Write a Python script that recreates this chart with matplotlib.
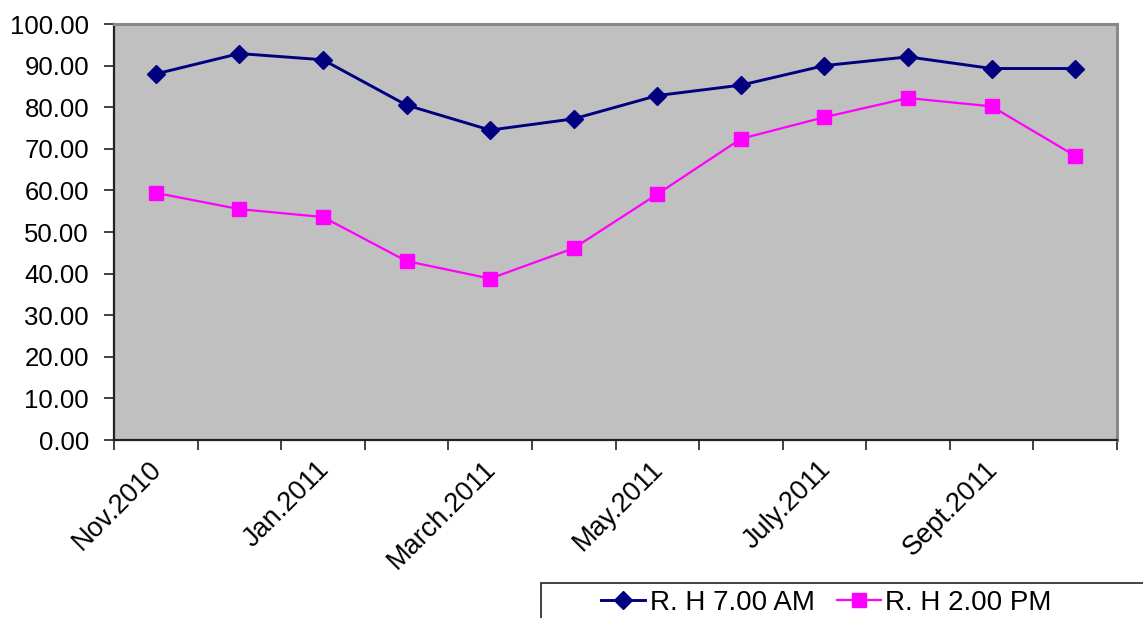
import numpy as np
import matplotlib.pyplot as plt
from matplotlib.patches import Rectangle
from matplotlib.lines import Line2D

plt.rcParams['font.family'] = ['Liberation Sans', 'DejaVu Sans']

# monthly relative humidity, Nov 2010 - Oct 2011
months = ["Nov.2010", "Dec.2010", "Jan.2011", "Feb.2011", "March.2011", "April.2011",
          "May.2011", "June.2011", "July.2011", "Aug.2011", "Sept.2011", "Oct.2011"]
shown = ["Nov.2010", "Jan.2011", "March.2011", "May.2011", "July.2011", "Sept.2011"]
rh_7am = [88.0, 92.9, 91.4, 80.5, 74.5, 77.2, 82.8, 85.3, 90.0, 92.1, 89.3, 89.3]
rh_2pm = [59.4, 55.5, 53.6, 43.0, 38.8, 46.1, 59.1, 72.4, 77.6, 82.2, 80.2, 68.3]

W, H = 1143, 618
fig = plt.figure(figsize=(W / 100, H / 100), dpi=100)
ax = fig.add_axes([114 / W, (H - 440) / H, 1003 / W, 416 / H])
ax.set_facecolor('#c0c0c0')

blue = dict(color='#000080', lw=2.1, marker='D', ms=9.5)
pink = dict(color='#ff00ff', lw=1.6, marker='s', ms=10.5)

x = np.arange(len(months)) + 0.5
ax.plot(x, rh_7am, **blue)
ax.plot(x, rh_2pm, **pink)

ax.set_xlim(0, len(months))
ax.set_ylim(0, 100)
ax.set_yticks(np.arange(0, 101, 10))
ax.set_yticklabels([f"{v:.2f}" for v in range(0, 101, 10)], fontsize=18.5)

# tick marks between categories, labels on every other month
ax.set_xticks(np.arange(len(months) + 1))
ax.set_xticklabels([])
for xi, m in zip(x, months):
    if m in shown:
        ax.annotate(m, xy=(xi, 0), xycoords=ax.get_xaxis_transform(),
                    xytext=(-5, -11.5), textcoords='offset points',
                    fontsize=19.5, rotation=45, ha='right', va='top',
                    rotation_mode='anchor', annotation_clip=False)
ax.tick_params(axis='x', length=7, width=1.2, color='#222222')
ax.tick_params(axis='y', length=7, width=1.2, color='#222222', pad=11)

for side in ['left', 'bottom']:
    ax.spines[side].set_color('#222222')
    ax.spines[side].set_linewidth(1.6)
for side in ['top', 'right']:
    ax.spines[side].set_color('#888888')
    ax.spines[side].set_linewidth(2.2)

# legend box running off the lower right corner
fig.patches.append(Rectangle((541 / W, -0.1), 0.6, (H - 583) / H + 0.1,
                             transform=fig.transFigure, facecolor='white',
                             edgecolor='#222222', lw=1.2))
handles = [Line2D([], [], **blue), Line2D([], [], **pink)]
fig.legend(handles, ['R. H 7.00 AM', 'R. H 2.00 PM'], ncol=2, frameon=False,
           loc='center left', bbox_to_anchor=(601 / W, (H - 603) / H),
           fontsize=20, handlelength=1.6, handletextpad=0.15,
           columnspacing=0.8, borderpad=0, borderaxespad=0)

fig.savefig('out.png', dpi=100)
